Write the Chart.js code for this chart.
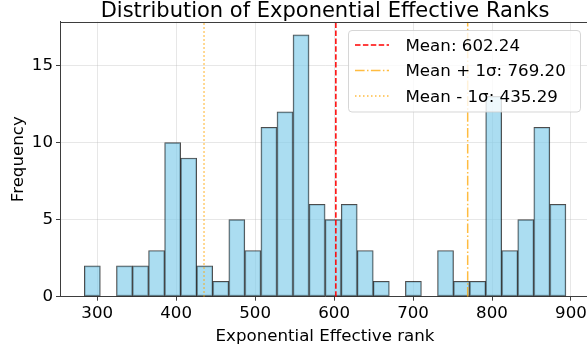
<!DOCTYPE html>
<html>
<head>
<meta charset="utf-8">
<script src="https://cdn.jsdelivr.net/npm/chart.js@4.4.1/dist/chart.umd.min.js"></script>
<style>
  body { margin: 0; overflow: hidden; background: #fff; }
  canvas { display: block; }
</style>
</head>
<body>
<canvas id="hist" width="592" height="347"></canvas>
<script>
// histogram bins (30 bins)
const binEdges = [283.7, 304.0, 324.4, 344.7, 365.0, 385.4, 405.7, 426.0, 446.3, 466.7,
  487.0, 507.3, 527.7, 548.0, 568.3, 588.7, 609.0, 629.3, 649.6, 670.0,
  690.3, 710.6, 731.0, 751.3, 771.6, 792.0, 812.3, 832.6, 852.9, 873.3, 893.6];
const counts = [2, 0, 2, 2, 3, 10, 9, 2, 1, 5, 3, 11, 12, 17, 6, 5, 6, 3, 1, 0,
  1, 0, 3, 1, 1, 13, 3, 5, 11, 6];

const xTicks = [300, 400, 500, 600, 700, 800, 900];
const yTicks = [0, 5, 10, 15];

const statNames = ['Mean', 'Mean + 1σ', 'Mean - 1σ'];
const statValues = [602.24, 769.20, 435.29];

const titleText = 'Distribution of Exponential Effective Ranks';
const xLabel = 'Exponential Effective rank';
const yLabel = 'Frequency';

const FONT = '"DejaVu Sans", sans-serif';
const spine = '#3d3d3d';
const lineColors = ['rgb(255,0,0)', 'rgba(255,165,0,0.75)', 'rgba(255,165,0,0.75)'];
const lineDashes = [[5.5, 2.4], [9.6, 2.4, 1.5, 2.4], [1.5, 2.5]];

const barData = counts.map((c, i) => ({ x: (binEdges[i] + binEdges[i + 1]) / 2, y: c }));
const yTop = 17.85;

const statSets = statValues.map((v, i) => ({
  type: 'line',
  label: statNames[i] + ': ' + v.toFixed(2),
  data: [{ x: v, y: 0 }, { x: v, y: yTop }],
  borderColor: lineColors[i],
  borderDash: lineDashes[i],
  borderWidth: 1.5,
  pointRadius: 0,
  fill: false,
}));

// title, top spine and legend box drawn by hand
const extras = {
  id: 'extras',
  afterDraw(chart) {
    const { ctx, chartArea: a } = chart;
    ctx.save();
    ctx.strokeStyle = spine;
    ctx.lineWidth = 1;
    ctx.beginPath();
    ctx.moveTo(a.left, Math.round(a.top) + 0.5);
    ctx.lineTo(a.right, Math.round(a.top) + 0.5);
    ctx.stroke();

    ctx.fillStyle = '#000';
    ctx.font = '21px ' + FONT;
    ctx.textAlign = 'center';
    ctx.textBaseline = 'alphabetic';
    ctx.fillText(titleText, (a.left + a.right) / 2, 16.5);

    // legend
    const bx = 348.5, by = 30.5, bw = 232, bh = 81.5;
    ctx.beginPath();
    ctx.roundRect(bx, by, bw, bh, 3.5);
    ctx.fillStyle = 'rgba(255,255,255,0.8)';
    ctx.fill();
    ctx.strokeStyle = 'rgba(204,204,204,0.8)';
    ctx.stroke();

    ctx.font = '16.67px ' + FONT;
    ctx.textAlign = 'left';
    statSets.forEach((s, i) => {
      const y = 45 + i * 25.5;
      ctx.beginPath();
      ctx.setLineDash(s.borderDash);
      ctx.strokeStyle = s.borderColor;
      ctx.lineWidth = 1.5;
      ctx.moveTo(355, y);
      ctx.lineTo(389, y);
      ctx.stroke();
      ctx.setLineDash([]);
      ctx.fillStyle = '#000';
      ctx.fillText(s.label, 405.5, y + 5.8);
    });
    ctx.restore();
  }
};

const ctx = document.getElementById('hist').getContext('2d');

new Chart(ctx, {
  type: 'bar',
  data: {
    datasets: [
      {
        label: 'hist',
        data: barData,
        backgroundColor: 'rgba(135, 206, 235, 0.7)',
        borderColor: 'rgba(0, 0, 0, 0.7)',
        borderWidth: 1,
        borderSkipped: false,
        barPercentage: 1,
        categoryPercentage: 1,
        grouped: false,
        order: 2,
      },
      ...statSets.map(s => ({ ...s, order: 1 })),
    ]
  },
  options: {
    responsive: false,
    animation: false,
    layout: { padding: { top: 21.7, right: 2, left: 0, bottom: 0 } },
    plugins: {
      legend: { display: false },
      tooltip: { enabled: false },
    },
    scales: {
      x: {
        type: 'linear',
        offset: false,
        min: 252.9,
        max: 924.1,
        afterFit: s => { s.height = 50.3; },
        afterBuildTicks: s => { s.ticks = xTicks.map(v => ({ value: v })); },
        grid: { color: 'rgba(176,176,176,0.3)', tickColor: spine, tickLength: 4, offset: false },
        border: { color: spine, width: 1 },
        ticks: { color: '#000', font: { family: FONT, size: 16.67 }, padding: 3, maxRotation: 0 },
        title: { display: true, text: xLabel, color: '#000', font: { family: FONT, size: 16.67 }, padding: { top: 7, bottom: 0 } },
      },
      y: {
        min: 0,
        max: yTop,
        afterFit: s => { s.width = 60; },
        afterBuildTicks: s => { s.ticks = yTicks.map(v => ({ value: v })); },
        grid: { color: 'rgba(176,176,176,0.3)', tickColor: spine, tickLength: 4 },
        border: { color: spine, width: 1 },
        ticks: { color: '#000', font: { family: FONT, size: 16.67 }, padding: 3 },
        title: { display: true, text: yLabel, color: '#000', font: { family: FONT, size: 16.67 }, padding: { top: 9, bottom: 0 } },
      }
    }
  },
  plugins: [extras]
});
</script>
</body>
</html>
